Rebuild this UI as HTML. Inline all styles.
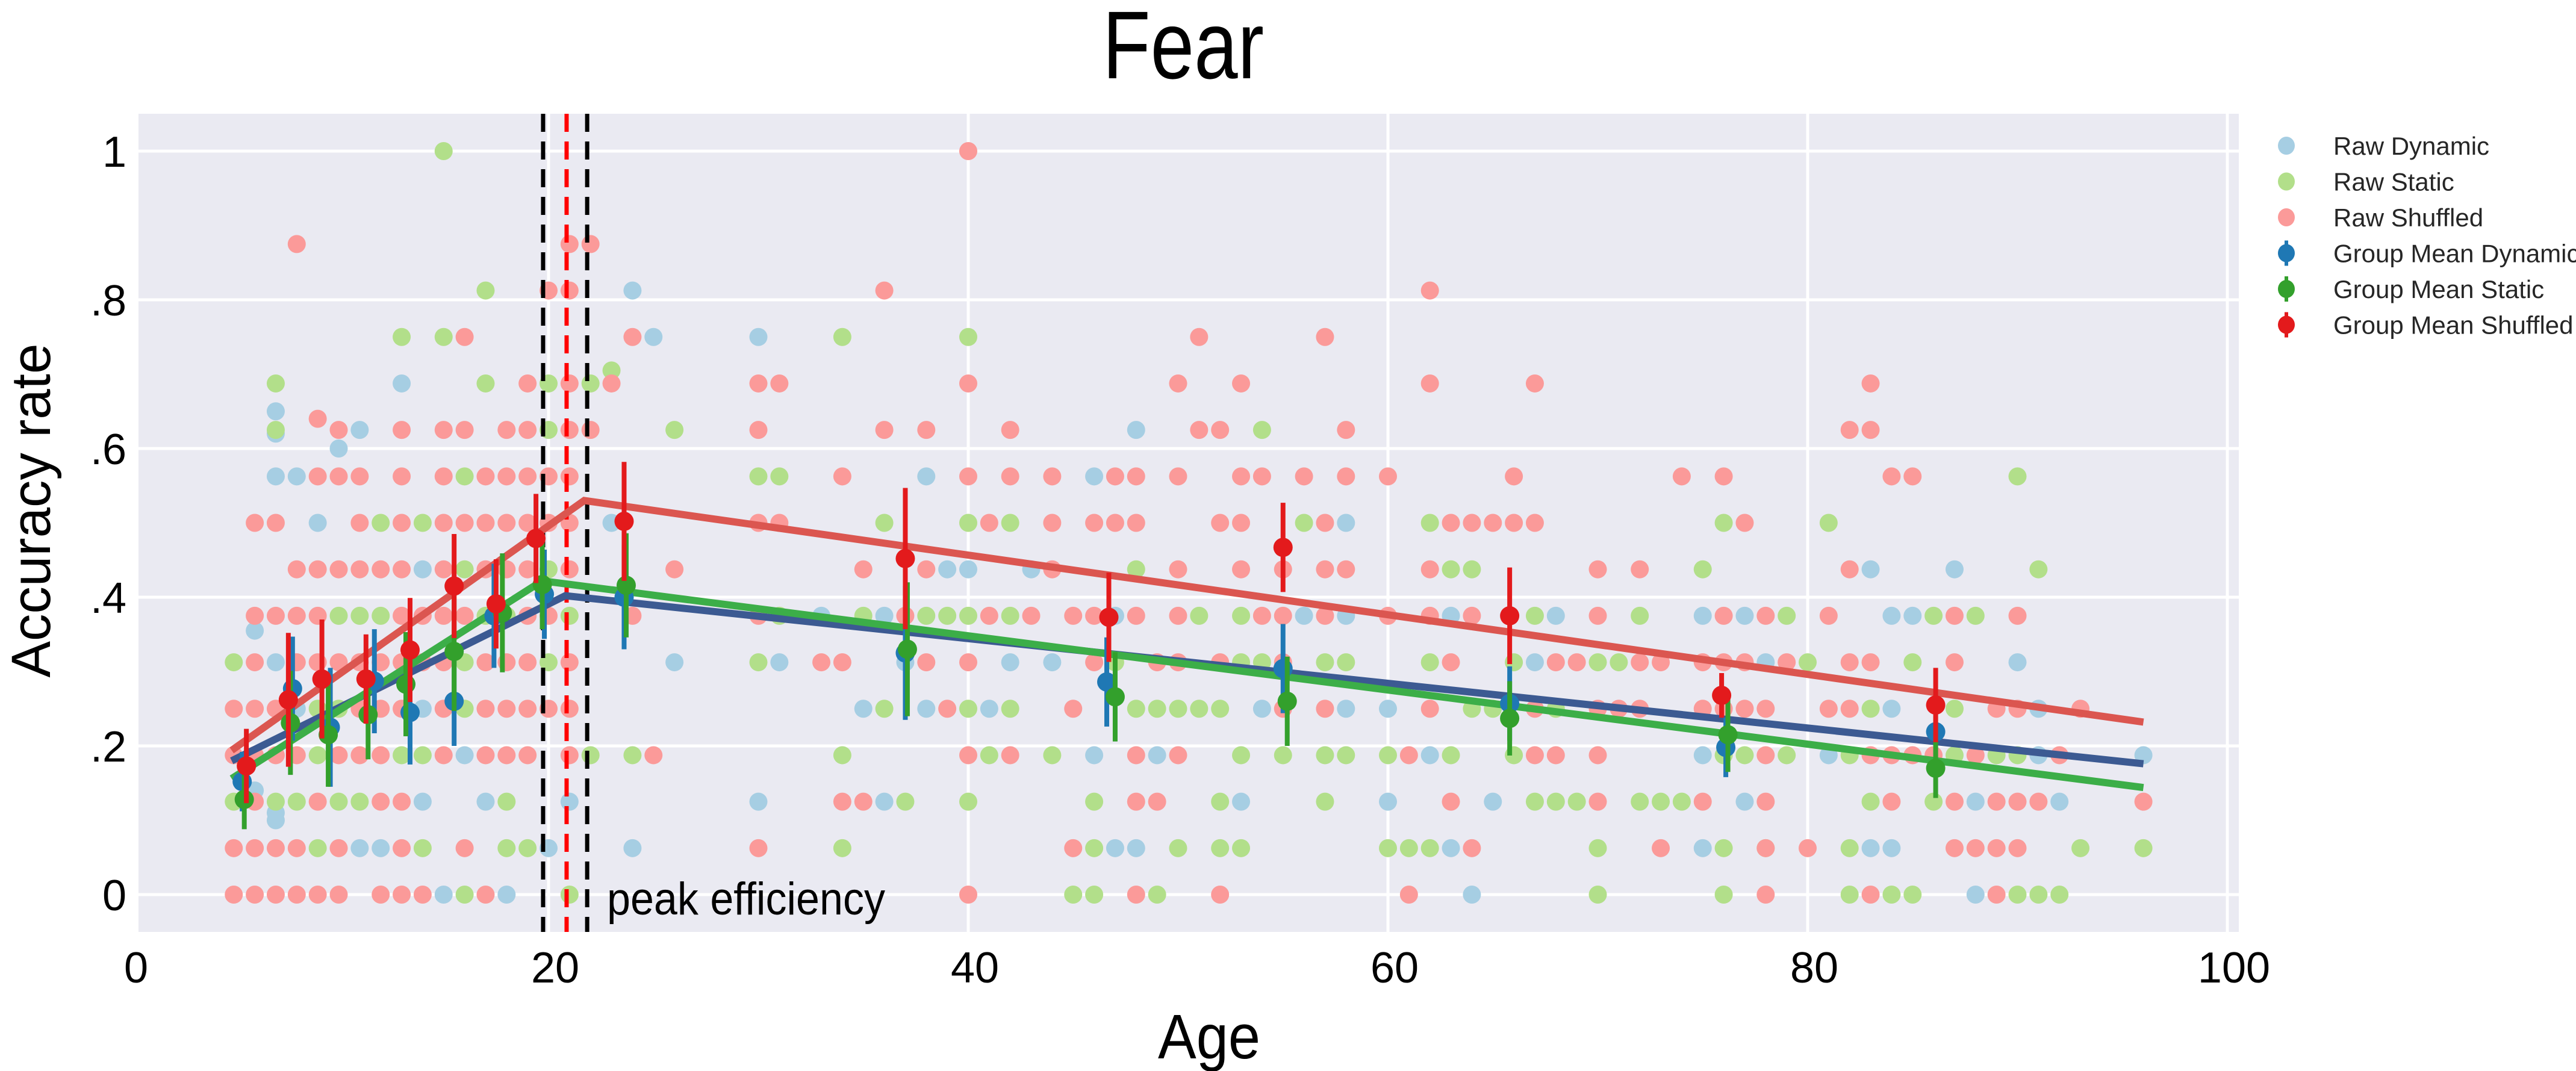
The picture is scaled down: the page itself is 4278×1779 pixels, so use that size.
<!DOCTYPE html>
<html><head><meta charset="utf-8"><style>
html,body{margin:0;padding:0;background:#fff;}
svg{display:block;}
text{font-family:"Liberation Sans",sans-serif;}
</style></head><body>
<svg id="chart" width="4278" height="1779" viewBox="0 0 4278 1779" xmlns="http://www.w3.org/2000/svg">
<rect x="0" y="0" width="4278" height="1779" fill="#fff"/>
<text x="1965" y="130" font-size="160" text-anchor="middle" textLength="268" lengthAdjust="spacingAndGlyphs" fill="#000">Fear</text>
<rect x="230" y="189" width="3488" height="1359" fill="#eaeaf2"/>
<g id="grid"></g>
<g id="raw"></g>
<g id="vlines"></g>
<g id="fits"></g>
<g id="means"></g>
<g id="ticks"></g>
<text x="1008" y="1519" font-size="76" textLength="462" lengthAdjust="spacingAndGlyphs" fill="#000">peak efficiency</text>
<text transform="translate(83,848) rotate(-90)" font-size="92" text-anchor="middle" textLength="555" lengthAdjust="spacingAndGlyphs" fill="#000">Accuracy rate</text>
<text x="2008" y="1758" font-size="105" text-anchor="middle" textLength="170" lengthAdjust="spacingAndGlyphs" fill="#000">Age</text>
<g id="legend"></g>
</svg>
<script>
const xTicks=[0,20,40,60,80,100];
const yTicks=[0,0.2,0.4,0.6,0.8,1];
const yTickLabels=["0",".2",".4",".6",".8","1"];
const peakLines=[19.74,21.84];
const peakCenter=20.86;

const rawDynamicRows=[[0,[15,18,64,88]],[0.0625,[11,12,20,24,47,48,63,75,83,84]],[0.1,[7]],[0.11,[7]],[0.125,[14,17,21,30,36,53,60,65,77,88,92]],[0.14,[6]],[0.1875,[16,46,49,62,75,81,91,96]],[0.25,[8,14,35,38,41,54,58,60,84,91]],[0.3125,[7,26,31,37,42,44,67,78,90]],[0.355,[6]],[0.375,[33,36,47,56,58,63,68,75,77,84,85]],[0.4375,[14,39,40,43,83,87]],[0.5,[9,23,58]],[0.5625,[7,8,38,46]],[0.6,[10]],[0.62,[7]],[0.625,[11,48]],[0.65,[7]],[0.6875,[13]],[0.75,[25,30]],[0.8125,[24]]];
const rawStaticRows=[[0,[16,21,45,46,49,70,76,82,84,85,90,91,92]],[0.0625,[9,14,18,19,34,46,50,52,53,60,61,62,70,76,78,82,93,96]],[0.125,[5,7,8,10,11,18,37,40,46,52,57,67,68,69,72,73,74,83,86]],[0.1875,[9,13,14,22,24,34,41,44,53,55,57,58,60,63,66,76,77,79,82,87,89,90]],[0.25,[9,10,16,36,40,42,48,49,50,51,52,64,65,68,83,87]],[0.3125,[5,16,20,30,47,53,54,57,58,62,66,70,71,80,85]],[0.375,[10,11,12,17,18,21,31,35,38,39,40,42,51,53,67,72,79,86,88]],[0.4375,[16,20,48,63,64,75,91]],[0.5,[12,14,36,40,42,56,62,76,81]],[0.5625,[16,30,31,90]],[0.625,[7,20,26,54]],[0.6875,[7,17,20,22]],[0.705,[23]],[0.75,[13,15,34,40]],[0.8125,[17]],[1,[15]]];
const rawShuffledRows=[[0,[5,6,7,8,9,10,12,13,14,17,40,48,52,61,78,83,89]],[0.0625,[5,6,7,8,10,13,16,30,45,64,73,78,80,87,88,89,90]],[0.125,[6,9,12,13,34,35,48,49,63,70,75,78,84,87,89,90,91,96]],[0.1875,[5,6,7,8,10,11,12,15,17,18,19,21,25,40,42,48,50,61,67,68,70,78,83,84,85,86,88,92]],[0.25,[5,6,7,11,12,13,15,17,18,19,20,21,39,45,55,57,62,67,70,71,72,75,76,77,78,81,82,89,90,93]],[0.3125,[6,8,9,10,11,12,13,14,15,17,18,19,21,33,34,38,40,46,49,50,52,55,63,68,69,72,73,75,76,77,79,82,83,87]],[0.375,[6,7,8,9,13,14,15,16,19,20,24,30,37,41,43,45,46,48,50,54,55,57,60,62,64,70,76,78,81,87,90]],[0.4375,[8,9,10,11,12,13,15,17,18,19,21,26,35,38,44,50,53,55,57,58,62,70,72,82]],[0.5,[6,7,11,13,15,16,17,18,19,20,21,30,31,41,44,46,47,48,52,53,57,63,64,65,66,67,77]],[0.5625,[9,10,11,13,15,17,18,19,20,21,34,40,42,44,47,48,50,53,54,56,58,60,66,74,76,84,85]],[0.625,[10,13,15,16,18,19,21,22,30,36,38,42,51,52,58,82,83]],[0.64,[9]],[0.6875,[19,21,23,30,31,40,50,53,62,67,83]],[0.75,[16,24,51,57]],[0.8125,[20,21,36,62]],[0.875,[8,21,22]],[1,[40]]];

const meanDynAges=[5.4,7.8,9.6,11.7,13.4,15.5,17.4,19.8,23.6,37.0,46.6,55,65.8,76.1,86.1];
const meanDynVals=[.152,.277,.225,.287,.245,.26,.375,.404,.40,.325,.286,.304,.257,.198,.219];
const meanDynErr=[.04,.07,.08,.07,.07,.06,.07,.06,.07,.09,.06,.06,.05,.04,.05];
const meanStaAges=[5.5,7.7,9.5,11.4,13.2,15.5,17.8,19.7,23.7,37.1,47,55.2,65.8,76.2,86.1];
const meanStaVals=[.128,.231,.215,.242,.283,.327,.379,.417,.416,.33,.266,.26,.237,.215,.17];
const meanStaErr=[.04,.07,.07,.06,.07,.08,.08,.06,.07,.09,.06,.06,.05,.05,.04];
const meanShuAges=[5.6,7.6,9.2,11.3,13.4,15.5,17.5,19.4,23.6,37.0,46.7,55,65.8,75.9,86.1];
const meanShuVals=[.173,.262,.29,.29,.329,.415,.391,.479,.502,.452,.373,.467,.375,.268,.255];
const meanShuErr=[.05,.09,.08,.06,.07,.07,.06,.06,.08,.095,.06,.06,.065,.03,.05];

const fitShuAges=[4.9,21.7,96];
const fitShuVals=[.194,.53,.232];
const fitDynAges=[4.9,20.8,96];
const fitDynVals=[.18,.402,.176];
const fitStaAges=[4.9,19.7,96];
const fitStaVals=[.156,.422,.144];

const NS="http://www.w3.org/2000/svg";
function X(v){return 214+34.85*v;}
function Y(v){return 1486-1235*v;}
function mk(tag,attrs,parent){const e=document.createElementNS(NS,tag);for(const k in attrs)e.setAttribute(k,attrs[k]);parent.appendChild(e);return e;}
const grid=document.getElementById('grid');
xTicks.forEach(t=>{if(t===0)return;const l=mk('line',{x1:X(t),x2:X(t),y1:189,y2:1548,stroke:'#fff','stroke-width':5},grid);

});
yTicks.forEach(t=>{const l=mk('line',{x1:230,x2:3718,y1:Y(t),y2:Y(t),stroke:'#fff','stroke-width':5},grid);

});
const ticks=document.getElementById('ticks');
xTicks.forEach(t=>{const tx=mk('text',{x:t===0?226:X(t)+11,y:1632,'font-size':72,'text-anchor':'middle',fill:'#000'},ticks);tx.textContent=String(t);

});
yTicks.forEach((t,i)=>{const tx=mk('text',{x:210,y:Y(t)+26,'font-size':72,'text-anchor':'end',fill:'#000'},ticks);tx.textContent=yTickLabels[i];

});
const raw=document.getElementById('raw');
function drawRaw(rows,color,name){rows.forEach(r=>{r[1].forEach(a=>{const c=mk('circle',{cx:X(a),cy:Y(r[0]),r:15,fill:color},raw);

});});}
drawRaw(rawDynamicRows,'#a6cee3','raw-dynamic-point');
drawRaw(rawStaticRows,'#b2df8a','raw-static-point');
drawRaw(rawShuffledRows,'#fb9a99','raw-shuffled-point');
const vl=document.getElementById('vlines');
peakLines.forEach(p=>{const l=mk('line',{x1:X(p),x2:X(p),y1:189,y2:1548,stroke:'#000','stroke-width':7,'stroke-dasharray':'30 16'},vl);

});
const pc=mk('line',{x1:X(peakCenter),x2:X(peakCenter),y1:189,y2:1548,stroke:'#ff0000','stroke-width':7,'stroke-dasharray':'30 16'},vl);


const fits=document.getElementById('fits');
function drawFit(ages,vals,color,name){const pts=ages.map((a,i)=>X(a)+','+Y(vals[i])).join(' ');const p=mk('polyline',{points:pts,fill:'none',stroke:color,'stroke-width':12},fits);

}
drawFit(fitShuAges,fitShuVals,'#db5650','fit-line-shuffled');
drawFit(fitDynAges,fitDynVals,'#3c5a92','fit-line-dynamic');
drawFit(fitStaAges,fitStaVals,'#3cae48','fit-line-static');
const means=document.getElementById('means');
function drawMeans(ages,vals,errs,color,name){ages.forEach((a,i)=>{const b=mk('line',{x1:X(a),x2:X(a),y1:Y(vals[i]+errs[i]),y2:Y(vals[i]-errs[i]),stroke:color,'stroke-width':8},means);


const c=mk('circle',{cx:X(a),cy:Y(vals[i]),r:16,fill:color},means);

});}
drawMeans(meanDynAges,meanDynVals,meanDynErr,'#1f78b4','mean-dynamic');
drawMeans(meanStaAges,meanStaVals,meanStaErr,'#33a02c','mean-static');
drawMeans(meanShuAges,meanShuVals,meanShuErr,'#e31a1c','mean-shuffled');
const legend=document.getElementById('legend');
const legendLabels=["Raw Dynamic","Raw Static","Raw Shuffled","Group Mean Dynamic","Group Mean Static","Group Mean Shuffled"];
const legendColors=['#a6cee3','#b2df8a','#fb9a99','#1f78b4','#33a02c','#e31a1c'];
legendLabels.forEach((lab,i)=>{const cy=242+i*59.5;const g=mk('g',{},legend);


if(i>=3){mk('line',{x1:3797,x2:3797,y1:cy-21,y2:cy+21,stroke:legendColors[i],'stroke-width':6},g);}
mk('ellipse',{cx:3797,cy:cy,rx:14,ry:15,fill:legendColors[i]},g);
const t=mk('text',{x:3875,y:cy+15,'font-size':42,fill:'#262626'},g);t.textContent=lab;});
</script>
</body></html>
